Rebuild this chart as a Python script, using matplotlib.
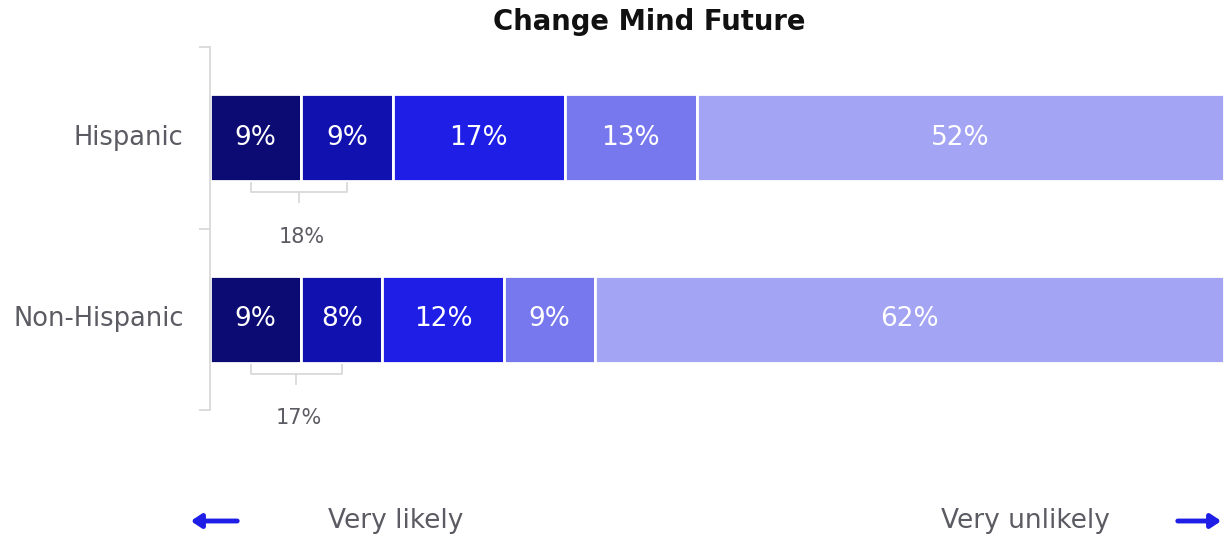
import numpy as np
import matplotlib.pyplot as plt
from matplotlib.transforms import blended_transform_factory

plt.rcParams["font.family"] = ["DejaVu Sans"]

groups = ["Hispanic", "Non-Hispanic"]
hispanic = [9, 9, 17, 13, 52]
non_hispanic = [9, 8, 12, 9, 62]
likely_totals = [18, 17]
colors = ["#0b0b73", "#1111b0", "#1e1ee6", "#7878ee", "#a4a4f4"]

values = np.array([hispanic, non_hispanic])

fig = plt.figure(figsize=(12.24, 5.37), dpi=100)
ax = fig.add_axes([210 / 1224, 127 / 537, 1014 / 1224, 363 / 537])

y = np.arange(len(groups))
left = np.zeros(len(groups))
for j in range(values.shape[1]):
    w = values[:, j]
    ax.barh(y, w, left=left, height=0.48, color=colors[j],
            edgecolor="white", linewidth=2)
    for i in range(len(groups)):
        ax.text(left[i] + w[i] / 2, y[i], f"{w[i]}%", ha="center", va="center",
                color="white", fontsize=19)
    left += w

# brackets under the two "likely" segments
for i in range(len(groups)):
    v1, v2 = values[i, 0], values[i, 1]
    x0 = v1 / 2 - 0.5
    x1 = v1 + v2 / 2
    yb = y[i] + 0.30
    ax.plot([x0, x0, x1, x1], [y[i] + 0.245, yb, yb, y[i] + 0.245],
            color="#d9d9d9", lw=1.3, solid_capstyle="butt")
    xm = (x0 + x1) / 2
    ax.plot([xm, xm], [yb, y[i] + 0.355], color="#d9d9d9", lw=1.3)
    ax.text(xm + 0.3, y[i] + 0.545, f"{likely_totals[i]}%", ha="center", va="center",
            color="#5b5b63", fontsize=15)

ax.set_xlim(0, 100)
ax.set_ylim(1.5, -0.5)
ax.set_yticks([-0.5, 0.5, 1.5])
ax.set_yticklabels([])
ax.set_xticks([])
ax.tick_params(axis="y", length=8, color="#d9d9d9", width=1.3)
for s in ["top", "right", "bottom"]:
    ax.spines[s].set_visible(False)
ax.spines["left"].set_color("#d9d9d9")
ax.spines["left"].set_linewidth(1.3)

tr = blended_transform_factory(ax.transAxes, ax.transData)
for i, g in enumerate(groups):
    ax.text(-0.026, y[i], g, transform=tr, ha="right", va="center",
            color="#5b5b63", fontsize=18.5)

fig.text(649 / 1224, 1 - 22 / 537, "Change Mind Future", ha="center", va="center",
         fontsize=19.8, fontweight="bold", color="#111111")

fig.text(396 / 1224, 16 / 537, "Very likely", ha="center", va="center",
         fontsize=19, color="#5b5b63")
fig.text(1025 / 1224, 16 / 537, "Very unlikely", ha="center", va="center",
         fontsize=19, color="#5b5b63")
arrow = dict(arrowstyle="-|>,head_length=0.6,head_width=0.4", color="#1e1ee6", lw=3.5)
ax.annotate("", xy=(188, 16), xytext=(240, 16), xycoords="figure pixels",
            textcoords="figure pixels", arrowprops=arrow, annotation_clip=False)
ax.annotate("", xy=(1224, 16), xytext=(1175, 16), xycoords="figure pixels",
            textcoords="figure pixels", arrowprops=arrow, annotation_clip=False)

fig.savefig("out.png", dpi=100)
